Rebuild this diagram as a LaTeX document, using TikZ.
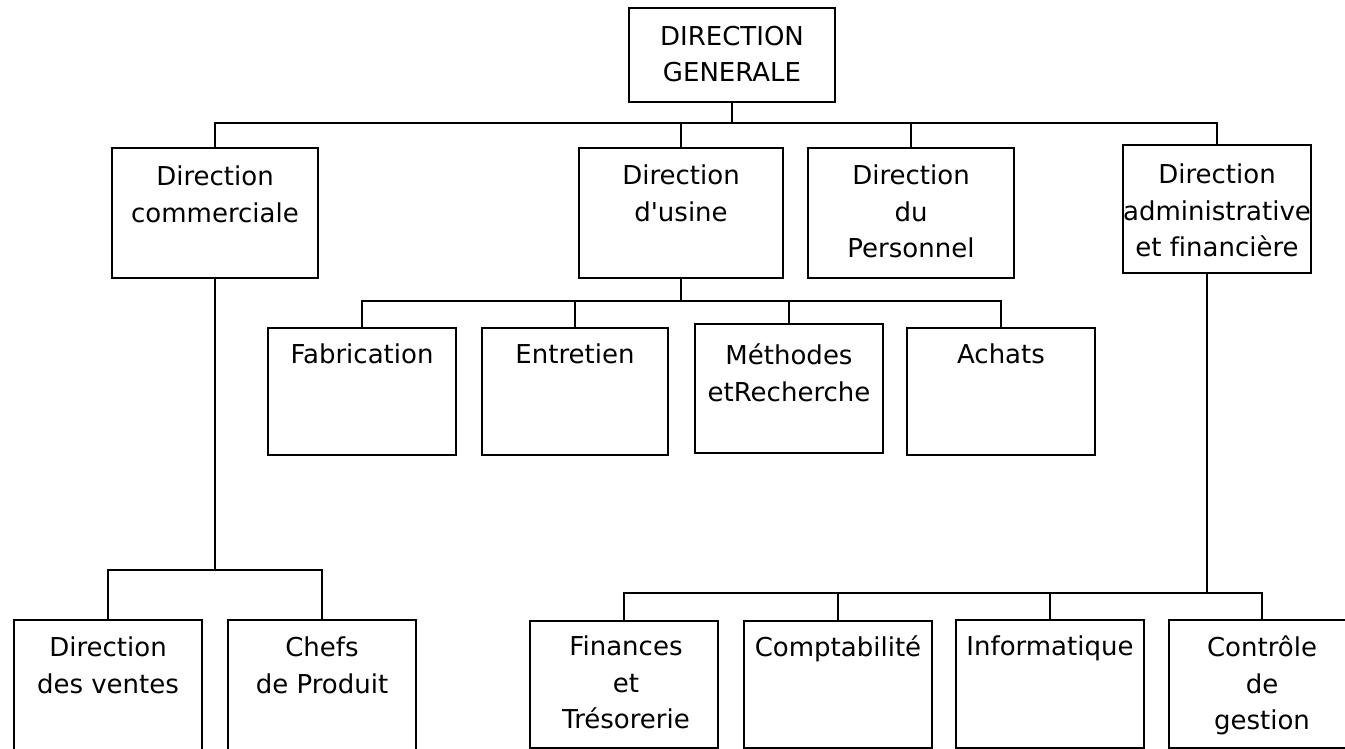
\documentclass[tikz,border=0pt]{standalone}
\usepackage{fontspec}
\setmainfont{DejaVu Sans}[Ligatures={TeXOff,NoCommon}]
\usetikzlibrary{calc}
\tikzset{
  orgbox/.style={draw, line width=2pt, inner sep=0pt, anchor=north west},
  orgtext/.style={align=center, inner sep=0pt, anchor=north, font=\fontsize{26}{36.5}\selectfont},
}
\begin{document}
\begin{tikzpicture}[x=1pt,y=1pt,yscale=-1,xscale=1,line width=2pt]
\useasboundingbox (0,0) rectangle (1345,749);
\clip (0,0) rectangle (1345,749);

%Shape: Rectangle [Direction generale]
\node[orgbox, minimum width=206, minimum height=94] (dg) at (628,7) {};
\node[orgtext] (dg-t) at ($(dg.north)+(0,18)$) {DIRECTION\\GENERALE};

%Shape: Rectangle [Direction commerciale]
\node[orgbox, minimum width=206, minimum height=130] (com) at (111,147) {};
\node[orgtext] (com-t) at ($(com.north)+(0,18)$) {Direction\\commerciale};
%Shape: Rectangle [Direction d'usine]
\node[orgbox, minimum width=204, minimum height=130] (usi) at (578,147) {};
\node[orgtext] (usi-t) at ($(usi.north)+(0,17)$) {Direction\\d'usine};
%Shape: Rectangle [Direction du Personnel]
\node[orgbox, minimum width=206, minimum height=130] (per) at (807,147) {};
\node[orgtext] (per-t) at ($(per.north)+(0,17)$) {Direction\\du\\Personnel};
%Shape: Rectangle [Direction administrative]
\node[orgbox, minimum width=188, minimum height=128] (adm) at (1122,144) {};
\node[orgtext] (adm-t) at ($(adm.north)+(0,19)$) {Direction\\administrative\\et financière};

%Shape: Rectangle [Fabrication]
\node[orgbox, minimum width=188, minimum height=127] (fab) at (267,327) {};
\node[orgtext] (fab-t) at ($(fab.north)+(0,16)$) {Fabrication};
%Shape: Rectangle [Entretien]
\node[orgbox, minimum width=186, minimum height=127] (ent) at (481,327) {};
\node[orgtext] (ent-t) at ($(ent.north)+(0,16)$) {Entretien};
%Shape: Rectangle [Methodes]
\node[orgbox, minimum width=188, minimum height=129] (met) at (694,323) {};
\node[orgtext] (met-t) at ($(met.north)+(0,20)$) {Méthodes\\etRecherche};
%Shape: Rectangle [Achats]
\node[orgbox, minimum width=188, minimum height=127] (ach) at (906,327) {};
\node[orgtext] (ach-t) at ($(ach.north)+(0,16)$) {Achats};

%Shape: Rectangle [Direction des ventes]
\node[orgbox, minimum width=188, minimum height=140] (ven) at (13,619) {};
\node[orgtext] (ven-t) at ($(ven.north)+(0,17)$) {Direction\\des ventes};
%Shape: Rectangle [Chefs de Produit]
\node[orgbox, minimum width=188, minimum height=140] (chf) at (227,619) {};
\node[orgtext] (chf-t) at ($(chf.north)+(0,17)$) {Chefs\\de Produit};

%Shape: Rectangle [Finances]
\node[orgbox, minimum width=188, minimum height=127] (fin) at (529,620) {};
\node[orgtext] (fin-t) at ($(fin.north)+(2,15)$) {Finances\\et\\Trésorerie};
%Shape: Rectangle [Comptabilite]
\node[orgbox, minimum width=188, minimum height=127] (cpt) at (743,620) {};
\node[orgtext] (cpt-t) at ($(cpt.north)+(0,15)$) {Comptabilité};
%Shape: Rectangle [Informatique]
\node[orgbox, minimum width=188, minimum height=128] (inf) at (955,619) {};
\node[orgtext] (inf-t) at ($(inf.north)+(0,16)$) {Informatique};
%Shape: Rectangle [Controle de gestion]
\node[orgbox, minimum width=186, minimum height=128] (ctl) at (1168,619) {};
\node[orgtext] (ctl-t) at ($(ctl.north)+(0,16)$) {Contrôle\\de\\gestion};

%Bus levels
\coordinate (bus-top) at (0,123);
\coordinate (bus-usi) at (0,301);
\coordinate (bus-com) at (0,570);
\coordinate (bus-adm) at (0,593);

%Straight Lines [top level]
\draw (dg.south) -- (dg.south |- bus-top);
\draw (com.north) -- (com.north |- bus-top) -- (adm.north |- bus-top) -- (adm.north);
\draw (usi.north) -- (usi.north |- bus-top);
\draw (per.north) -- (per.north |- bus-top);

%Straight Lines [usine]
\draw (usi.south) -- (usi.south |- bus-usi);
\draw (fab.north) -- (fab.north |- bus-usi) -- (ach.north |- bus-usi) -- (ach.north);
\foreach \n in {ent,met}
  \draw (\n.north) -- (\n.north |- bus-usi);

%Straight Lines [commerciale]
\draw (com.south) -- (com.south |- bus-com);
\draw (ven.north) -- (ven.north |- bus-com) -- (chf.north |- bus-com) -- (chf.north);

%Straight Lines [administrative]
\coordinate (adm-out) at ($(adm.south)+(-10,0)$);
\draw (adm-out) -- (adm-out |- bus-adm);
\draw (fin.north) -- (fin.north |- bus-adm) -- (ctl.north |- bus-adm) -- (ctl.north);
\foreach \n in {cpt,inf}
  \draw (\n.north) -- (\n.north |- bus-adm);

\end{tikzpicture}
\end{document}
